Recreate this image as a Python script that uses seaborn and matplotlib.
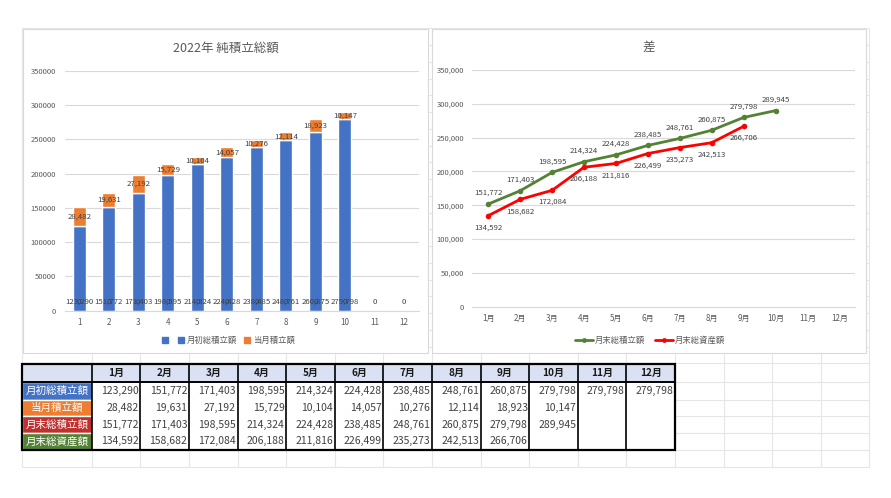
import numpy as np
import pandas as pd
import matplotlib
matplotlib.use("Agg")
import matplotlib.pyplot as plt
from matplotlib.patches import Rectangle
from matplotlib.lines import Line2D
import seaborn as sns

# ---- data ----
bar_cats = [str(i) for i in range(1, 13)]
months = ["1月", "2月", "3月", "4月", "5月", "6月", "7月", "8月", "9月", "10月", "11月", "12月"]
blank_series = [0, 0, 0, 0, 0, 0, 0, 0, 0, 0, 0, 0]   # unnamed series in the bar chart
start_total = [123290, 151772, 171403, 198595, 214324, 224428, 238485, 248761, 260875, 279798, 279798, 279798]
chart_start = [123290, 151772, 171403, 198595, 214324, 224428, 238485, 248761, 260875, 279798]
monthly_add = [28482, 19631, 27192, 15729, 10104, 14057, 10276, 12114, 18923, 10147]
end_total = [151772, 171403, 198595, 214324, 224428, 238485, 248761, 260875, 279798, 289945]
end_assets = [134592, 158682, 172084, 206188, 211816, 226499, 235273, 242513, 266706]
row_names = ["月初総積立額", "当月積立額", "月末総積立額", "月末総資産額"]
row_colors = ["#4472C4", "#ED7D31", "#C0302E", "#548235"]

BLUE, ORANGE, GREEN, RED = "#4472C4", "#ED7D31", "#548235", "#FF0000"
TXT, GRID = "#595959", "#D9D9D9"

sns.set_theme(style="white")
plt.rcParams["font.family"] = ["Noto Sans CJK JP", "DejaVu Sans"]

W, H = 891, 498
fig = plt.figure(figsize=(W / 100, H / 100), dpi=100)
fx = lambda px: px / W
fy = lambda py: 1 - py / H

# ---- sheet background: excel cell grid ----
bg = fig.add_axes([0, 0, 1, 1])
bg.set_xlim(0, W); bg.set_ylim(H, 0); bg.axis("off")
col_x = [22] + [91.7 + 48.6 * k for k in range(17)]
row_y = [28.3 + 16.755 * k for k in range(21)] + [381.8, 399.6, 416.4, 433, 449.7, 467]
bg.vlines(col_x, 28.3, 467, color="#E6E6E6", lw=0.8)
bg.hlines(row_y, 22, col_x[-1], color="#E6E6E6", lw=0.8)

# chart boxes
for x0, x1 in [(23, 428), (432, 866)]:
    bg.add_patch(Rectangle((x0, 29), x1 - x0, 352.5 - 29, facecolor="white",
                           edgecolor=GRID, lw=0.8, zorder=2))

# ---- table ----
tcols = [22] + [91.7 + 48.6 * k for k in range(13)]
trows = [364, 382, 399.5, 416.3, 433, 449.5]
bg.add_patch(Rectangle((tcols[0], trows[0]), tcols[-1] - tcols[0], trows[1] - trows[0],
                       facecolor="#D9E1F2", edgecolor="none", zorder=3))
for j, m in enumerate(months):
    bg.text((tcols[j + 1] + tcols[j + 2]) / 2, (trows[0] + trows[1]) / 2, m, ha="center",
            va="center", fontsize=7.2, fontweight="bold", color="#1a1a1a", zorder=5)
table_rows = [start_total, monthly_add, end_total, end_assets]
for i, (name, colr, vals) in enumerate(zip(row_names, row_colors, table_rows)):
    y0, y1 = trows[i + 1], trows[i + 2]
    bg.add_patch(Rectangle((tcols[0], y0), tcols[1] - tcols[0], y1 - y0, facecolor=colr,
                           edgecolor="white", lw=1, zorder=3))
    bg.text((tcols[0] + tcols[1]) / 2, (y0 + y1) / 2, name, ha="center", va="center",
            fontsize=7.6, color="white", zorder=5)
    bg.add_patch(Rectangle((tcols[1], y0), tcols[-1] - tcols[1], y1 - y0, facecolor="white",
                           edgecolor="none", zorder=3))
    for j, v in enumerate(vals):
        bg.text(tcols[j + 2] - 1.5, (y0 + y1) / 2, f"{v:,}", ha="right", va="center",
                fontsize=7.5, color="#404040", zorder=5)
bg.vlines(tcols[1:-1], trows[0], trows[-1], color="black", lw=1.2, zorder=4)
bg.hlines(trows[1], tcols[0], tcols[-1], color="black", lw=1.4, zorder=4)
bg.add_patch(Rectangle((tcols[0], trows[0]), tcols[-1] - tcols[0], trows[-1] - trows[0],
                       facecolor="none", edgecolor="black", lw=1.6, zorder=4))


def style_axis(ax):
    ax.set_facecolor("none")
    ax.set_ylim(0, 350000)
    ax.set_yticks(np.arange(0, 350001, 50000))
    ax.set_xlim(-0.5, 11.5)
    ax.yaxis.grid(True, color=GRID, lw=0.8)
    ax.xaxis.grid(False)
    ax.set_axisbelow(True)
    for s in ["top", "left", "right"]:
        ax.spines[s].set_visible(False)
    ax.spines["bottom"].set_color(GRID)
    ax.spines["bottom"].set_linewidth(0.8)
    ax.tick_params(axis="y", length=0, labelsize=5.5, colors=TXT, pad=6)
    ax.tick_params(axis="x", length=0, labelsize=5.8, colors=TXT, pad=5)
    ax.set_xlabel(""); ax.set_ylabel("")


# ---- chart 1: stacked bars ----
ax1 = fig.add_axes([fx(64.5), fy(310.7), (418.8 - 64.5) / W, (310.7 - 71) / H])
sns.barplot(x=bar_cats, y=blank_series, color=BLUE, saturation=1, width=0.44, ax=ax1)
sns.barplot(x=bar_cats[:len(chart_start)], y=chart_start, color=BLUE, saturation=1,
            width=0.44, ax=ax1)
top = ax1.bar(range(len(monthly_add)), monthly_add, bottom=chart_start[:len(monthly_add)],
              width=0.44, color=ORANGE)
style_axis(ax1)
ax1.set_yticklabels([f"{int(t)}" for t in ax1.get_yticks()])
ax1.bar_label(top, labels=[f"{v:,}" for v in monthly_add], label_type="center",
              fontsize=5.6, color="#404040")
for i, v in enumerate(chart_start):
    ax1.text(i, 13000, f"{v:,}", ha="center", va="center", fontsize=5.6, color="#404040")
for i, v in enumerate(blank_series):
    ax1.text(i, 13000, f"{v:,}", ha="center", va="center", fontsize=5.6, color="#404040")
fig.text(fx(226), fy(48), "2022年 純積立総額", ha="center", va="center", fontsize=9, color=TXT)
h1 = [Line2D([], [], ls="", marker="s", ms=4, color=BLUE),
      Line2D([], [], ls="", marker="s", ms=4, color=BLUE),
      Line2D([], [], ls="", marker="s", ms=4, color=ORANGE)]
fig.legend(h1, ["", "月初総積立額", "当月積立額"], loc="center", ncol=3,
           bbox_to_anchor=(fx(228), fy(340)), frameon=False, fontsize=6,
           handlelength=0.8, handletextpad=0.3, columnspacing=0.8, labelcolor=TXT)

# ---- chart 2: lines ----
ax2 = fig.add_axes([fx(472.3), fy(306.7), (855.3 - 472.3) / W, (306.7 - 70) / H])
sns.lineplot(x=list(range(len(end_total))), y=end_total, color=GREEN, marker="o", ms=4,
             mew=0, lw=2, ax=ax2)
sns.lineplot(x=list(range(len(end_assets))), y=end_assets, color=RED, marker="o", ms=4,
             mew=0, lw=2, ax=ax2)
style_axis(ax2)
ax2.set_xticks(range(12))
ax2.set_xticklabels(months)
ax2.set_yticklabels([f"{int(t):,}" for t in ax2.get_yticks()])
for i, v in enumerate(end_total):
    ax2.annotate(f"{v:,}", (i, v), xytext=(0, 8), textcoords="offset points",
                 ha="center", va="center", fontsize=5.6, color="#404040")
for i, v in enumerate(end_assets):
    ax2.annotate(f"{v:,}", (i, v), xytext=(0, -8.5), textcoords="offset points",
                 ha="center", va="center", fontsize=5.6, color="#404040")
fig.text(fx(649), fy(47), "差", ha="center", va="center", fontsize=9, color=TXT)
h2 = [Line2D([], [], color=GREEN, lw=2, marker="o", ms=3.5, mew=0),
      Line2D([], [], color=RED, lw=2, marker="o", ms=3.5, mew=0)]
fig.legend(h2, ["月末総積立額", "月末総資産額"], loc="center", ncol=2,
           bbox_to_anchor=(fx(650), fy(340)), frameon=False, fontsize=6,
           handlelength=2.2, handletextpad=0.2, columnspacing=1.2, labelcolor=TXT)

fig.savefig("out.png", dpi=100)
